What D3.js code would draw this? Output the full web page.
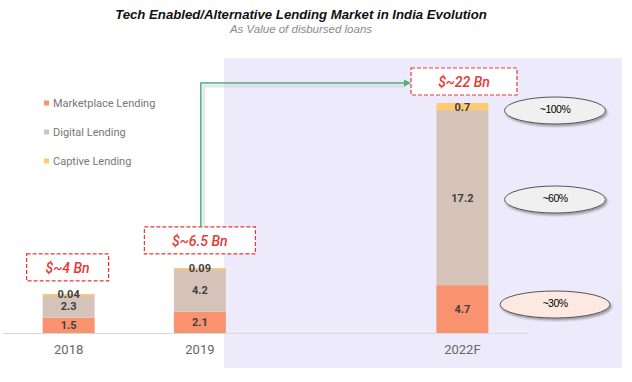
<!DOCTYPE html>
<html><head><meta charset="utf-8">
<script src="https://cdn.jsdelivr.net/npm/d3@7"></script>
<style>body{margin:0;background:#fff}svg{display:block}</style>
</head><body>
<script>
const categories = ["2018", "2019", "gap", "2022F"];
const seriesNames = ["Marketplace Lending", "Digital Lending", "Captive Lending"];
const marketplace = [1.5, 2.1, null, 4.7];
const digital = [2.3, 4.2, null, 17.2];
const captive = [0.04, 0.09, null, 0.7];
const valueLabels = [["1.5","2.3","0.04"],["2.1","4.2","0.09"],null,["4.7","17.2","0.7"]];
const totalLabels = ["$~4 Bn", "$~6.5 Bn", null, "$~22 Bn"];
const shareLabels = ["~30%", "~60%", "~100%"];
const colors = ["#F9926F", "#D5C3B9", "#FFCB6E"];

const W = 632, H = 382;
const svg = d3.select("body").append("svg").attr("width", W).attr("height", H);
const defs = svg.append("defs");
const f = defs.append("filter").attr("id","sh").attr("x","-20%").attr("y","-30%").attr("width","140%").attr("height","170%");
f.append("feDropShadow").attr("dx",1.5).attr("dy",2).attr("stdDeviation",1.2).attr("flood-color","#000").attr("flood-opacity",0.35);

const x = d3.scaleBand().domain(categories).range([3, 528]).paddingInner(0.604).paddingOuter(0.302);
const rows = categories.map((c, i) => ({cat: c, vals: [marketplace[i], digital[i], captive[i]], i}));
const totals = rows.map(r => d3.sum(r.vals));
const y = d3.scaleLinear().domain([0, d3.max(totals)]).range([333, 103]);

// shaded forecast region
svg.append("rect").attr("x", 224).attr("y", 58).attr("width", 398).attr("height", 310).attr("fill", "#EDEBFB");

// title
svg.append("text").attr("x", 301).attr("y", 19).attr("text-anchor","middle")
  .style("font-family","Liberation Sans, Arial, sans-serif").style("font-weight","bold").style("font-style","italic")
  .style("font-size","13.2px").attr("fill","#111").text("Tech Enabled/Alternative Lending Market in India Evolution");
svg.append("text").attr("x", 301).attr("y", 33).attr("text-anchor","middle")
  .style("font-family","Liberation Sans, Arial, sans-serif").style("font-style","italic")
  .style("font-size","11.5px").attr("fill","#8a8a8a").text("As Value of disbursed loans");

// axis
const axisG = svg.append("g").attr("transform", "translate(0,333)")
  .call(d3.axisBottom(x).tickValues(categories.filter(c => c !== "gap")).tickSize(0).tickPadding(12));
axisG.select(".domain").attr("stroke", "#d9d9d9").attr("d", "M3,0.5H528");
axisG.selectAll("text").style("font-family","Roboto, sans-serif").style("font-size","13px").attr("fill","#666");

// bars
rows.forEach(r => {
  if (r.vals[0] == null) return;
  let acc = 0;
  r.vals.forEach((v, k) => {
    const y0 = y(acc), y1 = y(acc + v);
    svg.append("rect").attr("x", x(r.cat)).attr("width", x.bandwidth())
      .attr("y", y1).attr("height", Math.max(y0 - y1, 1.5)).attr("fill", colors[k]);
    acc += v;
  });
  acc = 0;
  r.vals.forEach((v, k) => {
    const yc = (y(acc) + y(acc + v)) / 2;
    svg.append("text").attr("x", x(r.cat) + x.bandwidth()/2).attr("y", yc).attr("dy", "0.36em")
      .attr("text-anchor","middle").style("font-family","Roboto, sans-serif").style("font-weight","bold")
      .style("font-size","11px").attr("fill","#404040").text(valueLabels[r.i][k]);
    acc += v;
  });
});

// total boxes
const boxW = [82, 111, 0, 106];
const boxGap = [13, 14, 0, 8];
const boxCenters = [];
rows.forEach(r => {
  if (!totalLabels[r.i]) return;
  const cx = r.i === 3 ? 464 : x(r.cat) + x.bandwidth()/2 - (r.i === 0 ? 1 : 0);
  const top = y(totals[r.i]) - boxGap[r.i] - 27;
  boxCenters[r.i] = {cx, top};
  svg.append("rect").attr("x", cx - boxW[r.i]/2).attr("y", top).attr("width", boxW[r.i]).attr("height", 27)
    .attr("fill","#fff").attr("stroke","#E53935").attr("stroke-width",1.2).attr("stroke-dasharray","4,2");
  svg.append("text").attr("x", cx).attr("y", top + 14).attr("dy","0.36em").attr("text-anchor","middle")
    .style("font-family","Roboto, sans-serif").style("font-weight","500").style("font-style","italic")
    .style("font-size","14px").attr("fill","#E53935").text(totalLabels[r.i]);
});

// arrow
const b1 = boxCenters[1], b3 = boxCenters[3];
const ay = b3.top + 15;
const ax = b1.cx + 1;
const tipX = b3.cx - 106/2;
svg.append("path").attr("d", `M${ax+3},${b1.top} V${ay+3} H${tipX-6}`).attr("fill","none")
  .attr("stroke","#cfcfcf").attr("stroke-width",3).attr("opacity",0.45);
svg.append("path").attr("d", `M${ax},${b1.top} V${ay} H${tipX-6}`).attr("fill","none")
  .attr("stroke","#4DAF7C").attr("stroke-width",1.5);
svg.append("path").attr("d", `M${tipX},${ay} l-7,-3.5 v7 z`).attr("fill","#4DAF7C");

// ellipses
const ellFills = ["#FDE9E1", "#F0F0F0", "#F0F0F0"];
const ellRx = [55, 50.5, 50.5];
const ellY = [304.5, 199.5, 110.5];
shareLabels.forEach((s, k) => {
  svg.append("ellipse").attr("cx", 555).attr("cy", ellY[k]).attr("rx", ellRx[k]).attr("ry", 13.5)
    .attr("fill", ellFills[k]).attr("stroke","#555").attr("stroke-width",1).attr("filter","url(#sh)");
  svg.append("text").attr("x", 555).attr("y", ellY[k] - 1).attr("dy","0.36em").attr("text-anchor","middle")
    .style("font-family","Liberation Sans, Arial, sans-serif").style("font-size","10.5px").style("letter-spacing","-0.5px")
    .attr("fill","#000").text(s);
});

// legend
const lg = svg.append("g");
seriesNames.forEach((n, k) => {
  const ly = 103 + k * 29;
  lg.append("rect").attr("x", 44).attr("y", ly - 2.5).attr("width", 5).attr("height", 5).attr("fill", colors[k]);
  lg.append("text").attr("x", 53).attr("y", ly).attr("dy","0.36em")
    .style("font-family","Roboto, sans-serif").style("font-size","11px").attr("fill","#777").text(n);
});
</script>
</body></html>
